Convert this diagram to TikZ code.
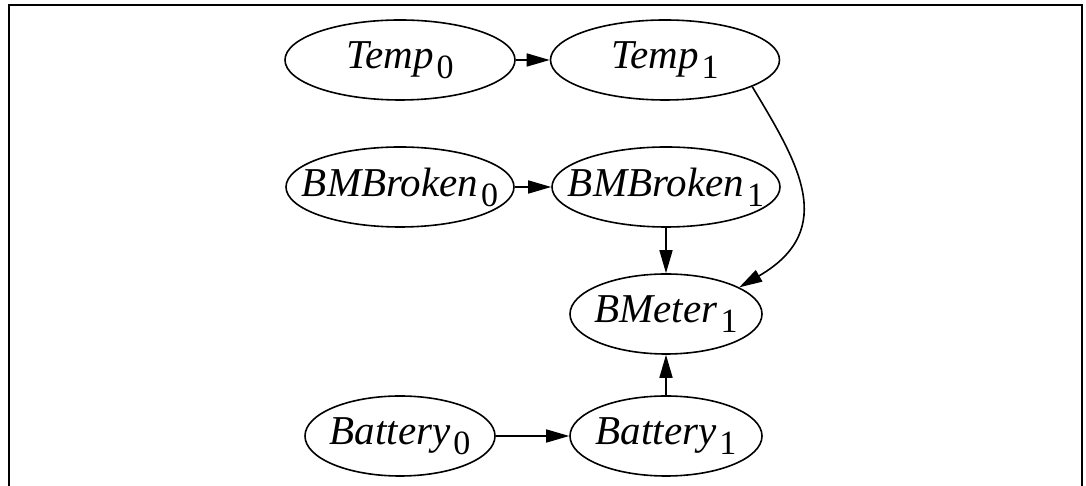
\documentclass[tikz,border=0pt]{standalone}
\usepackage{fontspec}
\setmainfont{Liberation Serif}
\usetikzlibrary{shapes.geometric,arrows.meta}

\newcommand{\vlabel}[2]{\makebox[0pt]{\fontsize{41}{41}\selectfont\itshape #1\/\kern3pt%
	\upshape\fontsize{34}{34}\selectfont\raisebox{-10pt}{#2}}}

\begin{document}
\begin{tikzpicture}[
x=1pt,y=1pt,
>={Triangle[length=23pt,width=13pt]},
vnode/.style={
	ellipse,
	draw,
	line width=1.6pt,
	inner sep=0pt,
	minimum height=80pt
},
depend/.style={
	->,
	line width=1.6pt
},
frame/.style={
	line width=2.5pt
}
]
\useasboundingbox (0,0) rectangle (1086,486);
\draw[frame] (9,0) -- (9,481) -- (1082,481) -- (1082,0);

\foreach \n/\x/\y/\w/\l/\s in {temp0/400/426/230/Temp/0,temp1/665/426/229/Temp/1,%
	broken0/400/299/228/BMBroken/0,broken1/666/299/228/BMBroken/1,%
	meter1/666/172/192/BMeter/1,%
	battery0/400/50/190/Battery/0,battery1/666/50/192/Battery/1}
\node[vnode,minimum width=\w pt] (\n) at (\x,\y) {\vlabel{\l}{\s}};

\draw[depend] (temp0) -- (temp1);
\draw[depend] (broken0) -- (broken1);
\draw[depend] (battery0) -- (battery1);
\draw[depend] (broken1) -- (meter1);
\draw[depend] (battery1) -- (meter1);
\draw[depend] (temp1.-17) .. controls +(45,-75) and +(100,58) .. (meter1.20);
\end{tikzpicture}
\end{document}
